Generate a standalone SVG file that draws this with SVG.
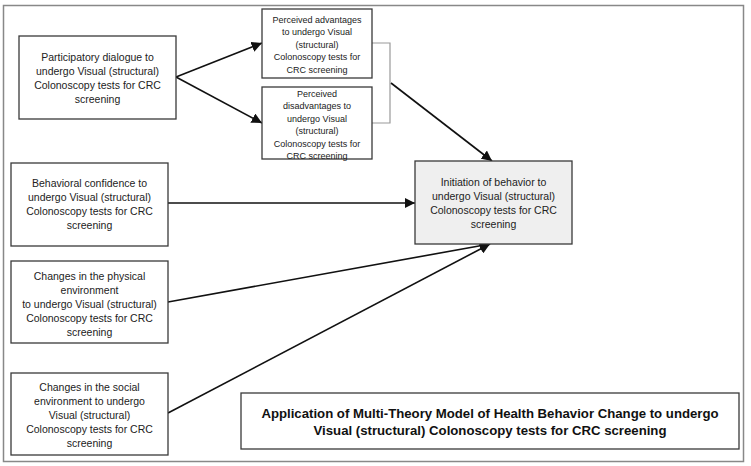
<svg xmlns="http://www.w3.org/2000/svg" width="751" height="466" viewBox="0 0 751 466">
<style>
.box{fill:#fff;stroke:#3a3a3a;stroke-width:1.3}
.tgt{fill:#efefef;stroke:#3a3a3a;stroke-width:1.3}
.t{font-family:"Liberation Sans",Arial,sans-serif;font-size:10.5px;fill:#222;text-anchor:middle}
.s{font-family:"Liberation Sans",Arial,sans-serif;font-size:9px;fill:#222;text-anchor:middle}
.ti{font-family:"Liberation Sans",Arial,sans-serif;font-size:13.2px;font-weight:bold;fill:#111;text-anchor:middle}
.c{stroke:#111;stroke-width:1.6;fill:none;marker-end:url(#ah)}
</style>
<defs>
<marker id="ah" viewBox="0 0 10 10" refX="10" refY="5" markerWidth="6.5" markerHeight="6.5" orient="auto" markerUnits="strokeWidth">
<path d="M0,0 L10,5 L0,10 z" fill="#111"/>
</marker>
</defs>
<rect x="0" y="0" width="751" height="466" fill="#fff"/>
<rect x="3.5" y="5.5" width="740" height="456" fill="none" stroke="#888" stroke-width="1.5"/>

<g id="connectors">
<polyline points="372,43 390,43 390,123 372,123" fill="none" stroke="#999" stroke-width="1.2"/>
<line class="c" x1="176" y1="77" x2="262" y2="43"/>
<line class="c" x1="176" y1="77" x2="262" y2="123"/>
<line class="c" x1="391" y1="83" x2="492" y2="161"/>
<line class="c" x1="168" y1="203" x2="415" y2="203"/>
<line class="c" x1="168" y1="302" x2="490" y2="244"/>
<line class="c" x1="168" y1="413" x2="490" y2="244"/>
</g>

<g id="n-dialogue">
<rect class="box" x="19" y="36" width="157" height="83"/>
<text class="t" x="97.5" y="61">Participatory dialogue to</text>
<text class="t" x="97.5" y="75">undergo Visual (structural)</text>
<text class="t" x="97.5" y="89">Colonoscopy tests for CRC</text>
<text class="t" x="97.5" y="103">screening</text>
</g>

<g id="n-advantages">
<rect class="box" x="262" y="9" width="110" height="69"/>
<text class="s" x="317" y="22.5">Perceived advantages</text>
<text class="s" x="317" y="35">to undergo Visual</text>
<text class="s" x="317" y="47.5">(structural)</text>
<text class="s" x="317" y="60">Colonoscopy tests for</text>
<text class="s" x="317" y="72.5">CRC screening</text>
</g>

<g id="n-disadvantages">
<rect class="box" x="262" y="87" width="110" height="72"/>
<text class="s" x="317" y="96.5">Perceived</text>
<text class="s" x="317" y="109">disadvantages to</text>
<text class="s" x="317" y="121.5">undergo Visual</text>
<text class="s" x="317" y="134">(structural)</text>
<text class="s" x="317" y="146.5">Colonoscopy tests for</text>
<text class="s" x="317" y="159">CRC screening</text>
</g>

<g id="n-confidence">
<rect class="box" x="11" y="163" width="157" height="83"/>
<text class="t" x="89.5" y="187">Behavioral confidence to</text>
<text class="t" x="89.5" y="201">undergo Visual (structural)</text>
<text class="t" x="89.5" y="215">Colonoscopy tests for CRC</text>
<text class="t" x="89.5" y="229">screening</text>
</g>

<g id="n-physical">
<rect class="box" x="11" y="261" width="157" height="82"/>
<text class="t" x="89.5" y="280">Changes in the physical</text>
<text class="t" x="89.5" y="294">environment</text>
<text class="t" x="89.5" y="308">to undergo Visual (structural)</text>
<text class="t" x="89.5" y="322">Colonoscopy tests for CRC</text>
<text class="t" x="89.5" y="336">screening</text>
</g>

<g id="n-social">
<rect class="box" x="11" y="373" width="157" height="82"/>
<text class="t" x="89.5" y="391">Changes in the social</text>
<text class="t" x="89.5" y="405">environment to undergo</text>
<text class="t" x="89.5" y="419">Visual (structural)</text>
<text class="t" x="89.5" y="433">Colonoscopy tests for CRC</text>
<text class="t" x="89.5" y="447">screening</text>
</g>

<g id="n-initiation">
<rect class="tgt" x="415" y="161" width="157" height="83"/>
<text class="t" x="493.5" y="186">Initiation of behavior to</text>
<text class="t" x="493.5" y="200">undergo Visual (structural)</text>
<text class="t" x="493.5" y="214">Colonoscopy tests for CRC</text>
<text class="t" x="493.5" y="228">screening</text>
</g>

<g id="title">
<rect class="box" x="241" y="393" width="498" height="56" stroke="#666" stroke-width="1"/>
<text class="ti" x="490" y="418">Application of Multi-Theory Model of Health Behavior Change to undergo</text>
<text class="ti" x="490" y="435">Visual (structural) Colonoscopy tests for CRC screening</text>
</g>
</svg>
